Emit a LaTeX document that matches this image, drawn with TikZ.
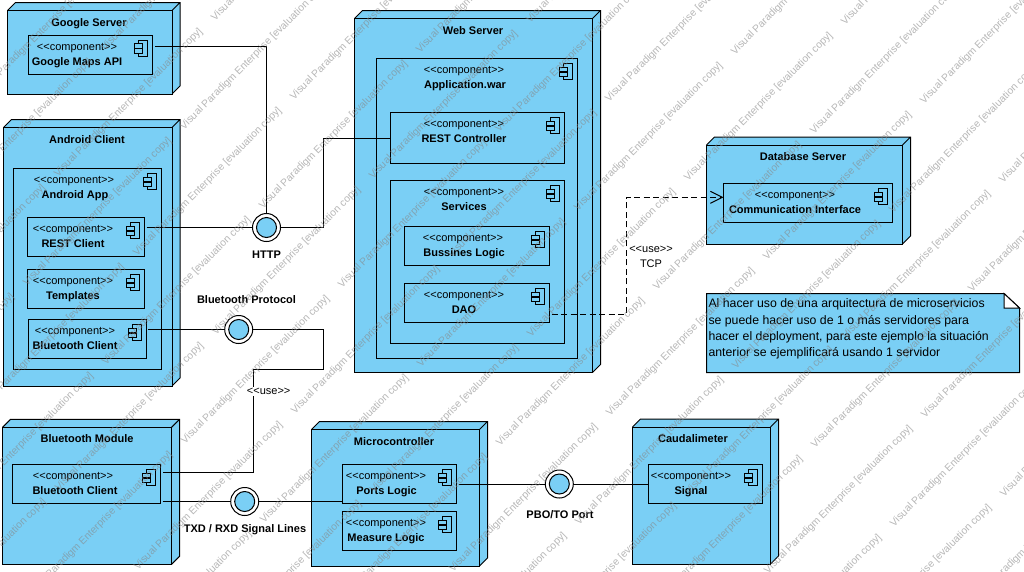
\documentclass[tikz,border=0pt]{standalone}
\usepackage{fontspec}
\setmainfont{Liberation Sans}
\usetikzlibrary{arrows.meta,calc}
\definecolor{nodeblue}{RGB}{122,207,245}
\definecolor{wmgray}{RGB}{135,135,135}
\tikzset{
  x=1pt,y=-1pt,
  txt/.style={font=\fontsize{11}{13}\selectfont,inner sep=0pt,outer sep=0pt,text=black,anchor=base},
  bold/.style={txt,font=\fontsize{11}{13}\selectfont\bfseries},
  notetext/.style={font=\fontsize{12.3}{14}\selectfont,inner sep=0pt,outer sep=0pt,text=black,anchor=base west},
  frame/.style={draw=black,line width=1pt,fill=nodeblue,inner sep=0pt,outer sep=0pt},
  iconpart/.style={draw=black,line width=1pt,fill=nodeblue},
  wire/.style={draw=black,line width=1pt},
  useline/.style={draw=black,line width=1pt,dash pattern=on 6pt off 3.5pt,-{Straight Barb[length=12pt,width=12pt,line width=1pt]}},
  ifout/.style={draw=black,line width=1pt,fill=white,circle,minimum size=28pt,inner sep=0pt,outer sep=0pt},
  ifin/.style={draw=black,line width=1pt,fill=nodeblue,circle,minimum size=20pt,inner sep=0pt,outer sep=0pt},
  watermark/.style={font=\fontsize{10.3}{12}\selectfont,text=wmgray,opacity=0.6,rotate=45,anchor=base west,inner sep=0pt,outer sep=0pt},
}
\newcommand{\cstereo}{\mbox{<{}<component>{}>}}
\newcommand{\useword}{\mbox{<{}<use>{}>}}
% name x1 y1 x2 y2 title titlex
\newcommand{\devnode}[7]{%
  \fill[nodeblue] (#2,#3)--(#2+8,#3-8)--(#4+8,#3-8)--(#4+8,#5-8)--(#4,#5)--(#2,#5)--cycle;
  \draw[line width=1pt,line join=miter] (#2,#3)--(#2+8,#3-8)--(#4+8,#3-8)--(#4+8,#5-8)--(#4,#5) (#4,#3)--(#4+8,#3-8);
  \pgfmathsetmacro\bw{#4-#2}\pgfmathsetmacro\bh{#5-#3}
  \node[frame,minimum width=\bw pt,minimum height=\bh pt] (#1) at ({(#2+#4)/2},{(#3+#5)/2}) {};
  \node[bold] (#1-t) at (#7,#3+15.5) {#6};
}
% name x1 y1 x2 y2 title stereox titlex
\newcommand{\compnode}[8]{%
  \pgfmathsetmacro\bw{#4-#2}\pgfmathsetmacro\bh{#5-#3}
  \node[frame,minimum width=\bw pt,minimum height=\bh pt] (#1) at ({(#2+#4)/2},{(#3+#5)/2}) {};
  \node[txt] (#1-s) at (#7,#3+15) {\cstereo};
  \node[bold] (#1-t) at (#8,#3+30) {#6};
  \draw[iconpart] (#4-14.5,#3+5) rectangle (#4-5,#3+21);
  \draw[iconpart] (#4-18.5,#3+8.5) rectangle (#4-10,#3+13);
  \draw[iconpart] (#4-18.5,#3+13.5) rectangle (#4-10,#3+18);
}
\begin{document}
\begin{tikzpicture}
\useasboundingbox (0,0) rectangle (1024,571);
\fill[white] (0,0) rectangle (1024,571);

\devnode{google}{7.5}{10.5}{172}{94}{Google Server}{89}
\compnode{gmaps}{28}{35}{152.5}{74}{Google Maps API}{77}{77}

\devnode{android}{3.5}{127.5}{172}{386}{Android Client}{87}
\compnode{aapp}{13.5}{168.5}{161.5}{369}{Android App}{74}{75}
\compnode{rest}{27.5}{217.5}{144.5}{256.5}{REST Client}{73}{73}
\compnode{tmpl}{27.5}{269.5}{144.5}{308.5}{Templates}{73}{73}
\compnode{btc}{28.5}{319.5}{146.5}{358.5}{Bluetooth Client}{75}{75}

\devnode{web}{354.5}{18.5}{592.5}{372.5}{Web Server}{473}
\compnode{war}{376.5}{58.5}{577.5}{358.5}{Application.war}{464}{465}
\compnode{ctrl}{390.5}{112.5}{564.5}{163.5}{REST Controller}{464}{464}
\compnode{serv}{390.5}{180.5}{564.5}{343}{Services}{464}{464}
\compnode{logic}{404.5}{226.5}{549.5}{265.5}{Bussines Logic}{463}{464}
\compnode{dao}{404.5}{283.5}{549.5}{322.5}{DAO}{464}{464}

\devnode{db}{706.5}{145}{902.5}{244}{Database Server}{803}
\compnode{comm}{723.5}{183.5}{892.5}{222.5}{Communication Interface}{795}{795}

\devnode{btm}{2.5}{427.3}{171.5}{564.3}{Bluetooth Module}{87}
\compnode{btcm}{12.5}{464.5}{160.5}{503.5}{Bluetooth Client}{73}{75}

\devnode{micro}{311.5}{429.5}{479.5}{566}{Microcontroller}{394}
\compnode{ports}{342.5}{464.5}{456.5}{503.5}{Ports Logic}{386}{386.5}
\compnode{meas}{342.5}{511.5}{456.5}{550.5}{Measure Logic}{386}{386}

\devnode{caud}{632.5}{427}{770.5}{564}{Caudalimeter}{693}
\compnode{sig}{648.5}{464.5}{762.5}{503.5}{Signal}{691}{691}

% note
\draw[line width=1pt,fill=nodeblue,line join=miter] (706.5,293.5)--(1004,293.5)--(1019.5,308)--(1019.5,372.5)--(706.5,372.5)--cycle;
\draw[line width=1pt,fill=white,line join=miter] (1004,293.5)--(1004,308)--(1019.5,308)--cycle;
\node[notetext] (n1) at (708.5,307.7) {Al hacer uso de una arquitectura de microservicios};
\node[notetext] (n2) at (708.5,324) {se puede hacer uso de 1 o más servidores para};
\node[notetext] (n3) at (708.5,340) {hacer el deployment, para este ejemplo la situación};
\node[notetext] (n4) at (708.5,356) {anterior se ejemplificará usando 1 servidor};

% interfaces
\node[ifout] (http) at (266.5,227.5) {};
\node[ifin] (httpi) at (266.5,227.5) {};
\node[bold] (httpl) at (266.5,258) {HTTP};
\node[ifout] (bt) at (238.7,329.5) {};
\node[ifin] (bti) at (238.7,329.5) {};
\node[bold] (btl) at (246.5,303) {Bluetooth Protocol};
\node[ifout] (txd) at (244.7,501.5) {};
\node[ifin] (txdi) at (244.7,501.5) {};
\node[bold] (txdl) at (245,532) {TXD / RXD Signal Lines};
\node[ifout] (pbo) at (559.3,484) {};
\node[ifin] (pboi) at (559.3,484) {};
\node[bold] (pbol) at (560,518) {PBO/TO Port};

% connectors
\coordinate (a1) at (155,46.5);
\draw[wire] (a1) -| (http.north);
\coordinate (a2) at (146.5,227.5);
\draw[wire] (a2) -- (http.west);
\coordinate (a3) at (ctrl.west);
\draw[wire] (http.east) -- (323.3,227.5) |- (a3);
\coordinate (a4) at (148,329.5);
\draw[wire] (a4) -- (bt.west);
\coordinate (a5) at (162.5,472);
\draw[wire] (bt.east) -- (323.3,329.5) -- (323.3,369.5) -- (253.5,369.5) -- (253.5,472) -- (a5);
\node[txt,fill=white,inner ysep=1pt,inner xsep=2pt] (usea) at (268.7,394.5) {\useword};
\coordinate (a6) at (162.5,501.5);
\draw[wire] (a6) -- (txd.west);
\coordinate (a7) at (342.5,501.5);
\draw[wire] (txd.east) -- (a7);
\coordinate (a8) at (459,484);
\draw[wire] (a8) -- (pbo.west);
\draw[wire] (pbo.east) -- (sig.west);
\coordinate (a9) at (551.7,314.3);
\coordinate (a10) at (723.5,197.3);
\draw[useline] (a9) -- (626.3,314.3) -- (626.3,197.3) -- (a10);
\node[txt] (useb) at (651,252) {\useword};
\node[txt] (tcp) at (651,267) {TCP};

% watermark
\begin{scope}
\clip (0,0) rectangle (1024,571);
\foreach \i in {-8,...,8}{
  \foreach \j in {-6,...,8}{
    \pgfmathsetmacro\ax{735+79*\i+157*\j}
    \pgfmathsetmacro\ay{55+79*\i-156*\j}
    \pgfmathsetmacro\bx{845+79*\i+157*\j}
    \pgfmathsetmacro\by{25+79*\i-156*\j}
    \node[watermark] (wa\i\j) at (\ax,\ay) {Visual Paradigm Enterprise [evaluation copy]};
    \node[watermark] (wb\i\j) at (\bx,\by) {Visual Paradigm Enterprise [evaluation copy]};
  }
}
\end{scope}
\end{tikzpicture}
\end{document}
